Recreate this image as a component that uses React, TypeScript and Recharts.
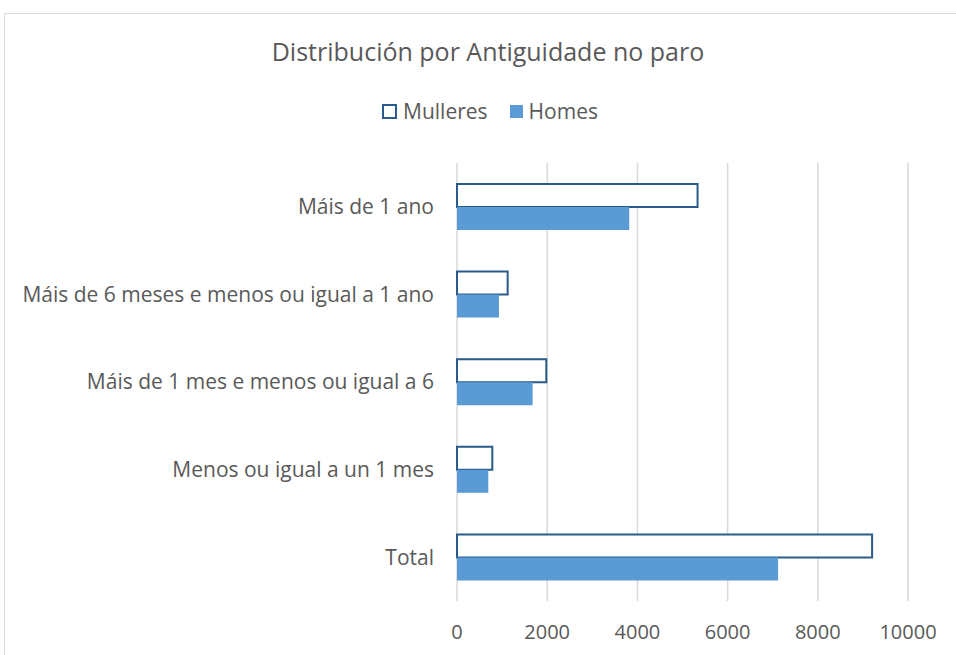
import React from "react";
import { BarChart, Bar, XAxis, YAxis, CartesianGrid } from "recharts";

const categories = [
  "Máis de 1 ano",
  "Máis de 6 meses e menos ou igual a 1 ano",
  "Máis de 1 mes e menos ou igual a 6",
  "Menos ou igual a un 1 mes",
  "Total",
];
const mulleres = [5334, 1123, 1980, 783, 9204];
const homes = [3819, 931, 1677, 694, 7120];
const xTicks = [0, 2000, 4000, 6000, 8000, 10000];

const data = categories.map((name, i) => ({
  name,
  mulleres: mulleres[i],
  homes: homes[i],
}));

const FONT = "'Open Sans', 'Liberation Sans', sans-serif";
const TEXT = "#595959";

function LegendBox() {
  return (
    <div
      style={{
        position: "absolute",
        top: 97,
        left: 0,
        width: 980,
        display: "flex",
        justifyContent: "center",
        alignItems: "center",
        fontFamily: FONT,
        fontSize: 21,
        color: TEXT,
      }}
    >
      <span
        style={{
          display: "inline-block",
          width: 11,
          height: 11,
          border: "2px solid #2a5a8a",
          background: "#fff",
          marginRight: 6,
        }}
      />
      <span style={{ marginRight: 22 }}>Mulleres</span>
      <span
        style={{
          display: "inline-block",
          width: 13,
          height: 13,
          background: "#5b9bd5",
          marginRight: 6,
        }}
      />
      <span>Homes</span>
    </div>
  );
}

export default function App() {
  return (
    <div
      style={{
        position: "fixed",
        left: 0,
        top: 0,
        width: 956,
        height: 655,
        background: "#fff",
        overflow: "hidden",
      }}
    >
      <div
        style={{
          position: "absolute",
          left: 4,
          top: 13,
          width: 1000,
          height: 700,
          borderTop: "1px solid #d9d9d9",
          borderLeft: "1px solid #d9d9d9",
        }}
      />
      <div
        style={{
          position: "absolute",
          top: 34,
          left: 0,
          width: 976,
          textAlign: "center",
          fontFamily: FONT,
          fontSize: 25,
          color: TEXT,
        }}
      >
        Distribución por Antiguidade no paro
      </div>
      <LegendBox />
      <div style={{ position: "absolute", left: 0, top: 0 }}>
        <BarChart
          width={956}
          height={655}
          data={data}
          layout="vertical"
          margin={{ top: 163, right: 48, bottom: 24, left: 0 }}
          barGap={0}
          barSize={23}
        >
          <CartesianGrid horizontal={false} stroke="#d9d9d9" strokeWidth={1.5} />
          <XAxis
            type="number"
            domain={[0, 10000]}
            ticks={xTicks}
            axisLine={false}
            tickLine={false}
            tickMargin={18}
            height={30}
            tick={{ fill: TEXT, fontSize: 20, fontFamily: FONT }}
          />
          <YAxis
            type="category"
            dataKey="name"
            width={457}
            axisLine={false}
            tickLine={false}
            tickMargin={17}
            interval={0}
            tick={{ fill: TEXT, fontSize: 21, fontFamily: FONT }}
          />
          <Bar
            dataKey="mulleres"
            fill="#ffffff"
            stroke="#2a5a8a"
            strokeWidth={2}
            isAnimationActive={false}
          />
          <Bar dataKey="homes" fill="#5b9bd5" isAnimationActive={false} />
        </BarChart>
      </div>
    </div>
  );
}
